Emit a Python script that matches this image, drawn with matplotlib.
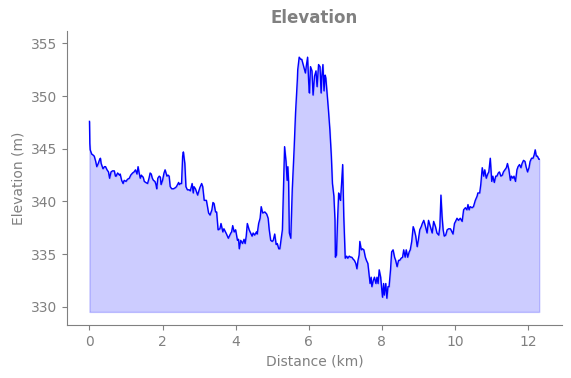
import matplotlib
matplotlib.use('Agg')
import matplotlib.pyplot as plt

distance_km = [
    0.00, 0.01, 0.02, 0.06, 0.10, 0.13, 0.17, 0.20, 0.24, 0.28, 0.30, 0.32, 0.37, 0.41, 0.44,
    0.48, 0.52, 0.55, 0.59, 0.63, 0.68, 0.71, 0.73, 0.77, 0.82, 0.84, 0.88, 0.92, 0.95, 1.00,
    1.04, 1.09, 1.13, 1.18, 1.22, 1.26, 1.30, 1.33, 1.36, 1.39, 1.42, 1.44, 1.47, 1.50, 1.54,
    1.59, 1.63, 1.66, 1.69, 1.72, 1.75, 1.79, 1.82, 1.84, 1.87, 1.91, 1.94, 1.96, 2.00, 2.04,
    2.07, 2.12, 2.15, 2.18, 2.21, 2.25, 2.30, 2.35, 2.38, 2.41, 2.44, 2.46, 2.49, 2.52, 2.55,
    2.57, 2.61, 2.64, 2.68, 2.73, 2.76, 2.81, 2.84, 2.86, 2.90, 2.93, 2.96, 3.02, 3.07, 3.10,
    3.14, 3.20, 3.26, 3.30, 3.35, 3.38, 3.41, 3.45, 3.48, 3.52, 3.57, 3.60, 3.65, 3.68, 3.75,
    3.80, 3.87, 3.89, 3.92, 3.96, 4.00, 4.05, 4.08, 4.10, 4.14, 4.19, 4.23, 4.26, 4.29, 4.32,
    4.37, 4.41, 4.45, 4.48, 4.52, 4.57, 4.59, 4.63, 4.67, 4.70, 4.74, 4.80, 4.85, 4.89, 4.92,
    4.96, 5.00, 5.03, 5.07, 5.11, 5.14, 5.18, 5.21, 5.23, 5.28, 5.31, 5.34, 5.38, 5.41, 5.43,
    5.45, 5.47, 5.51, 5.55, 5.60, 5.64, 5.69, 5.70, 5.74, 5.78, 5.81, 5.87, 5.91, 5.94, 5.97,
    6.00, 6.02, 6.05, 6.09, 6.12, 6.16, 6.20, 6.23, 6.27, 6.31, 6.34, 6.36, 6.39, 6.42, 6.45,
    6.47, 6.51, 6.54, 6.58, 6.62, 6.65, 6.69, 6.72, 6.73, 6.76, 6.79, 6.82, 6.84, 6.87, 6.90,
    6.93, 6.96, 7.00, 7.04, 7.07, 7.11, 7.15, 7.18, 7.22, 7.25, 7.29, 7.32, 7.35, 7.38, 7.40,
    7.44, 7.47, 7.51, 7.55, 7.58, 7.62, 7.66, 7.68, 7.71, 7.73, 7.77, 7.80, 7.84, 7.87, 7.90,
    7.93, 7.97, 8.00, 8.02, 8.05, 8.07, 8.11, 8.14, 8.17, 8.20, 8.24, 8.27, 8.31, 8.35, 8.38,
    8.42, 8.46, 8.49, 8.53, 8.57, 8.60, 8.64, 8.67, 8.71, 8.75, 8.78, 8.82, 8.86, 8.89, 8.93,
    8.97, 9.00, 9.04, 9.08, 9.11, 9.15, 9.19, 9.24, 9.28, 9.33, 9.38, 9.42, 9.47, 9.51, 9.56,
    9.59, 9.62, 9.65, 9.68, 9.71, 9.75, 9.79, 9.83, 9.88, 9.92, 9.95, 9.99, 10.02, 10.06, 10.10,
    10.15, 10.20, 10.24, 10.29, 10.33, 10.36, 10.39, 10.42, 10.47, 10.51, 10.56, 10.61, 10.63, 10.68, 10.71,
    10.75, 10.79, 10.82, 10.86, 10.90, 10.93, 10.97, 11.01, 11.04, 11.08, 11.12, 11.15, 11.19, 11.22, 11.26,
    11.30, 11.33, 11.37, 11.41, 11.44, 11.48, 11.52, 11.55, 11.59, 11.62, 11.66, 11.70, 11.73, 11.77, 11.81,
    11.84, 11.88, 11.92, 11.95, 11.99, 12.03, 12.06, 12.10, 12.14, 12.17, 12.20, 12.23, 12.26, 12.30, 12.31,
]

elevation_m = [
    347.6, 345.5, 344.9, 344.5, 344.4, 344.3, 343.8, 343.3, 343.6, 344.0, 344.1, 343.6, 343.1, 343.3, 343.3,
    343.0, 342.8, 342.2, 342.8, 342.9, 342.9, 342.4, 342.4, 342.7, 342.5, 342.6, 342.0, 341.7, 342.0, 341.9,
    342.1, 342.2, 342.5, 342.7, 342.8, 343.0, 342.6, 343.3, 342.7, 342.2, 342.5, 342.4, 342.3, 341.9, 341.8,
    341.7, 342.2, 342.7, 342.6, 342.2, 342.0, 341.9, 341.6, 341.2, 342.2, 342.4, 342.3, 341.6, 342.0, 342.7,
    343.0, 342.4, 342.5, 342.4, 341.4, 341.2, 341.2, 341.3, 341.4, 341.6, 341.8, 341.6, 341.7, 341.7, 344.3,
    344.7, 343.6, 341.4, 341.1, 341.1, 341.0, 341.7, 340.8, 341.4, 341.2, 340.9, 340.6, 341.3, 341.7, 341.4,
    340.1, 340.1, 338.9, 338.7, 339.2, 339.9, 339.8, 339.0, 339.0, 337.3, 337.4, 337.9, 337.1, 337.4, 336.9,
    336.5, 337.0, 337.1, 337.7, 337.1, 337.3, 336.3, 336.4, 335.5, 336.3, 336.0, 336.4, 336.0, 336.7, 337.9,
    337.3, 337.0, 336.7, 337.0, 336.8, 337.1, 336.9, 337.9, 338.4, 339.5, 338.9, 339.0, 338.8, 338.4, 337.3,
    336.3, 336.2, 336.3, 336.9, 335.9, 336.0, 335.5, 335.5, 336.0, 337.3, 341.1, 345.2, 343.8, 342.0, 343.3,
    341.9, 337.0, 336.5, 341.1, 344.9, 348.4, 351.6, 352.5, 353.7, 353.5, 353.5, 352.7, 352.2, 353.0, 353.7,
    351.3, 350.3, 352.8, 352.4, 350.1, 351.9, 352.4, 350.9, 353.0, 352.8, 350.3, 351.9, 353.0, 350.5, 352.0,
    351.7, 350.0, 348.7, 346.8, 344.3, 341.7, 340.5, 338.2, 334.7, 334.9, 338.2, 340.8, 340.5, 340.1, 341.7,
    343.5, 338.6, 334.6, 334.8, 334.6, 334.8, 334.7, 334.7, 334.5, 334.4, 334.1, 333.6, 334.4, 334.9, 336.2,
    335.4, 335.5, 335.4, 334.7, 334.4, 334.1, 332.8, 332.2, 332.8, 331.9, 332.5, 332.8, 332.2, 332.8, 332.2,
    333.5, 332.8, 331.6, 330.9, 332.2, 331.1, 332.2, 330.8, 331.9, 331.9, 333.5, 335.2, 335.4, 334.7, 334.4,
    333.8, 334.4, 334.4, 334.6, 334.7, 335.4, 334.7, 335.4, 334.7, 335.2, 335.4, 336.2, 337.6, 337.3, 336.7,
    335.7, 336.3, 337.3, 337.6, 337.9, 338.2, 337.7, 337.0, 338.2, 337.6, 337.0, 338.1, 337.6, 337.0, 336.8,
    337.6, 340.6, 338.6, 337.3, 336.7, 336.8, 337.3, 337.4, 337.4, 337.1, 336.9, 337.9, 338.1, 338.4, 338.2,
    338.4, 338.1, 339.2, 339.4, 339.2, 339.7, 339.2, 339.5, 339.4, 339.5, 340.1, 340.5, 340.8, 340.8, 341.6,
    343.2, 342.4, 343.0, 342.2, 342.6, 342.8, 344.1, 341.9, 342.4, 341.8, 342.4, 342.4, 342.7, 342.8, 342.4,
    342.5, 342.8, 343.0, 343.2, 343.6, 343.0, 342.0, 342.4, 342.2, 342.4, 341.9, 343.0, 343.3, 343.5, 343.2,
    343.6, 343.9, 343.8, 343.3, 342.8, 343.2, 343.8, 344.1, 344.1, 344.4, 344.9, 344.3, 344.3, 344.0, 344.0,
]

base_elevation = 329.5
gray = '#808080'

fig, ax = plt.subplots(figsize=(5.71, 3.78), dpi=100)
fig.subplots_adjust(left=0.117, right=0.984, bottom=0.140, top=0.917)

ax.plot(distance_km, elevation_m, color='blue', linewidth=1)
ax.fill_between(distance_km, elevation_m, base_elevation, color='blue', alpha=0.2)

ax.set_xlim(-0.62, 12.93)
ax.set_ylim(328.25, 356.15)
ax.set_title('Elevation', color=gray, fontweight='bold', fontsize=12)
ax.set_xlabel('Distance (km)', color=gray)
ax.set_ylabel('Elevation (m)', color=gray)
ax.tick_params(colors=gray)
for side in ['top', 'right']:
    ax.spines[side].set_visible(False)
for side in ['left', 'bottom']:
    ax.spines[side].set_color(gray)

fig.savefig('out.png')
